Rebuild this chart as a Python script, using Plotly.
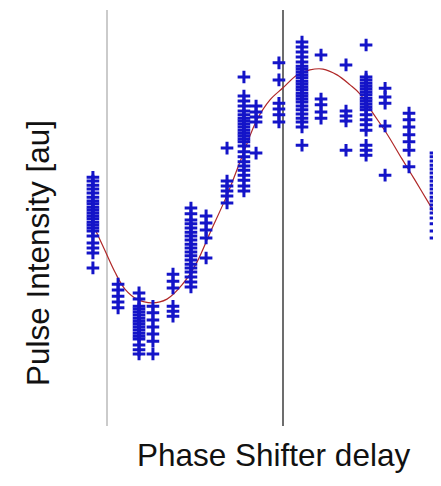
import plotly.graph_objects as go

# Delay positions (arbitrary delay units) of the measured shot groups
delay_positions = [-0.80, 0.63, 1.82, 2.61, 3.75, 4.77, 5.63, 6.82, 7.78,
                   8.47, 9.77, 11.08, 12.16, 13.58, 14.72, 15.80, 17.16, 18.69]

# Pulse intensity [au] of the individual shots at each delay position
shots_01 = [59.8, 58.9, 57.9, 57.0, 56.0, 55.0, 54.1, 53.4, 52.6, 51.9, 51.2, 50.5,
            49.8, 49.0, 48.3, 47.6, 46.9, 45.7, 44.0, 42.8, 41.6, 38.0]
shots_02 = [34.1, 32.7, 31.2, 29.8, 28.4]
shots_03 = [32.0, 30.5, 28.8, 28.1, 27.4, 26.7, 25.9, 25.2, 24.5, 23.8, 23.1, 22.3,
            21.6, 20.9, 19.5, 18.3, 17.3]
shots_04 = [28.8, 27.2, 25.5, 23.8, 22.1, 20.4, 17.3]
shots_05 = [36.5, 34.8, 33.2, 28.8, 27.6, 26.4]
shots_06 = [52.4, 51.0, 49.5, 48.6, 47.6, 46.6, 45.7, 44.7, 43.7, 42.8, 41.8, 40.9,
            39.9, 38.9, 38.0, 37.0, 35.8, 34.6, 33.4]
shots_07 = [50.5, 48.8, 47.1, 45.2, 40.4]
shots_08 = [66.8, 58.9, 57.7, 56.5, 55.3, 53.6]
shots_09 = [83.9, 79.3, 78.1, 76.9, 75.7, 74.8, 74.0, 73.3, 72.6, 71.9, 71.1, 70.4,
            69.7, 69.0, 68.3, 67.3, 65.9, 64.7, 63.5, 62.5, 61.5, 60.3, 59.1, 57.7, 56.5]
shots_10 = [76.9, 75.5, 74.3, 73.1, 65.6]
shots_11 = [87.3, 83.2, 77.6, 76.2, 74.8, 73.1]
shots_12 = [92.3, 91.1, 89.9, 88.7, 87.5, 86.5, 85.8, 85.1, 84.4, 83.7, 82.9, 82.2,
            81.5, 80.8, 80.0, 79.3, 78.6, 77.9, 76.9, 76.0, 75.0, 74.0, 73.1, 71.9, 67.5]
shots_13 = [89.2, 78.6, 77.2, 75.5, 74.0]
shots_14 = [86.8, 75.7, 74.5, 73.3, 66.3]
shots_15 = [91.6, 83.9, 83.2, 82.4, 81.7, 81.0, 80.3, 79.6, 78.8, 78.1, 77.4, 76.7,
            76.0, 74.8, 73.6, 72.4, 71.1, 67.5, 66.3, 65.1]
shots_16 = [81.2, 79.1, 77.6, 72.1, 60.3]
shots_17 = [75.2, 73.6, 71.9, 70.0, 68.3, 66.3, 62.3]
shots_18 = [65.6, 64.7, 63.7, 62.7, 61.8, 60.8, 59.8, 58.9, 57.9, 57.0, 56.0, 55.0,
            54.1, 53.1, 52.2, 51.2, 50.0, 48.6, 46.9, 45.2]

shot_groups = [shots_01, shots_02, shots_03, shots_04, shots_05, shots_06,
               shots_07, shots_08, shots_09, shots_10, shots_11, shots_12,
               shots_13, shots_14, shots_15, shots_16, shots_17, shots_18]

# Sinusoidal fit curve
fit_delay = [-0.63, -0.11, 0.45, 1.02, 1.70, 2.56, 3.41, 4.26, 5.11, 5.85, 6.82,
             7.73, 8.52, 9.26, 10.00, 10.80, 11.53, 12.27, 13.07, 13.81, 14.38,
             15.11, 15.91, 16.76, 17.50, 18.35, 18.98]
fit_intensity = [46.9, 42.1, 37.0, 32.9, 30.5, 29.6, 30.5, 33.9, 39.4, 46.4, 55.5,
                 65.4, 73.6, 78.4, 81.3, 84.4, 85.6, 85.8, 84.4, 82.0, 79.8,
                 75.2, 70.2, 64.2, 59.1, 53.1, 48.6]

# Reference delays marked with vertical lines
reference_delays = [0.0, 10.0]
reference_colors = ["#a8a8a8", "#3c3c3c"]
reference_widths = [1.2, 1.5]
line_span = [0.0, 100.0]

fig = go.Figure()

for d, c, w in zip(reference_delays, reference_colors, reference_widths):
    fig.add_trace(go.Scatter(x=[d, d], y=line_span, mode="lines",
                             line=dict(color=c, width=w), hoverinfo="skip",
                             showlegend=False))

fig.add_trace(go.Scatter(x=fit_delay, y=fit_intensity, mode="lines",
                         line=dict(color="#b02828", width=1.2, shape="spline"),
                         showlegend=False, name="fit"))

all_x, all_y = [], []
for d, grp in zip(delay_positions, shot_groups):
    all_x += [d] * len(grp)
    all_y += grp

blue = "#1414c8"
fig.add_trace(go.Scatter(x=all_x, y=all_y, mode="markers",
                         marker=dict(symbol="cross-thin-open", size=9, color=blue,
                                     line=dict(color=blue, width=3)),
                         showlegend=False, name="shots", cliponaxis=True))

# The page body has an 8px default margin; the figure is sized to fit the window.
fig.update_layout(
    width=433, height=478,
    margin=dict(l=72, r=0, t=0, b=60),
    paper_bgcolor="white", plot_bgcolor="white",
    xaxis=dict(range=[-1.534, 18.977], visible=False),
    yaxis=dict(range=[0, 100.48], visible=False),
    font=dict(family="Liberation Sans, Arial, sans-serif", color="#111111"),
    annotations=[
        dict(text="Pulse Intensity [au]", xref="paper", yref="paper",
             x=-0.116, y=0.414, textangle=-90, showarrow=False,
             xanchor="center", yanchor="middle", font=dict(size=31.5)),
        dict(text="Phase Shifter delay", xref="paper", yref="paper",
             x=0.535, y=-0.0694, showarrow=False,
             xanchor="center", yanchor="middle", font=dict(size=31.5)),
    ],
)

fig.write_html("out.html")
